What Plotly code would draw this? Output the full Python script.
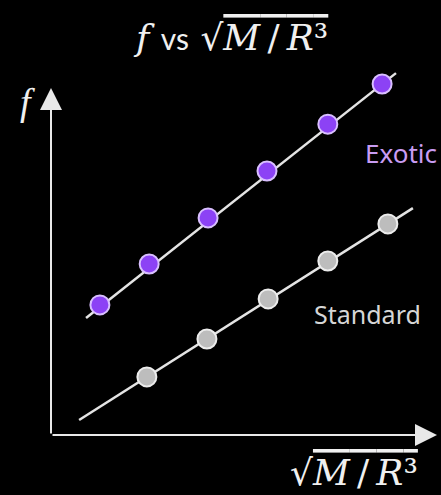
import plotly.graph_objects as go

# ---- data (arbitrary units: x = sqrt(M/R^3), y = f) ----
exotic_x = [1.27, 2.55, 4.08, 5.61, 7.19, 8.60]
exotic_y = [3.47, 4.56, 5.79, 7.04, 8.29, 9.36]
exotic_fit_x = [0.91, 8.96]
exotic_fit_y = [3.12, 9.65]

standard_x = [2.49, 4.05, 5.64, 7.19, 8.75]
standard_y = [1.55, 2.56, 3.63, 4.64, 5.63]
standard_fit_x = [0.73, 9.40]
standard_fit_y = [0.40, 6.05]

W, H = 441, 495
# axis scale (pixels per unit) and origin in pixels
SX, SY = 38.5, 37.5
OX, OY = 51, 435

LINE_COL = "#e4e4e4"

fig = go.Figure()
fig.add_trace(go.Scatter(x=exotic_fit_x, y=exotic_fit_y, mode="lines",
                         line=dict(color=LINE_COL, width=2.5), hoverinfo="skip"))
fig.add_trace(go.Scatter(x=standard_fit_x, y=standard_fit_y, mode="lines",
                         line=dict(color=LINE_COL, width=2.5), hoverinfo="skip"))
fig.add_trace(go.Scatter(x=exotic_x, y=exotic_y, mode="markers", name="Exotic",
                         marker=dict(size=19, color="#8c42f5",
                                     line=dict(color="#d9bfff", width=2))))
fig.add_trace(go.Scatter(x=standard_x, y=standard_y, mode="markers", name="Standard",
                         marker=dict(size=19, color="#bdbdbd",
                                     line=dict(color="#ececec", width=2))))

def px(x):
    return x / W

def py(y):
    return 1 - y / H

annos = []
# axes with arrowheads
annos.append(dict(x=(437 - OX) / SX, y=0, ax=0, ay=0, xref="x", yref="y",
                  axref="x", ayref="y", text="", showarrow=True,
                  arrowhead=2, arrowsize=2.2, arrowwidth=2, arrowcolor="#e8e8e8"))
annos.append(dict(x=0, y=(OY - 88) / SY, ax=0, ay=0, xref="x", yref="y",
                  axref="x", ayref="y", text="", showarrow=True,
                  arrowhead=2, arrowsize=2.2, arrowwidth=2, arrowcolor="#e8e8e8"))

ov = "<span style='text-decoration:overline'>"
math = "√" + ov + "<i>M</i>\u2009/\u2009<i>R</i>³</span>"
annos.append(dict(x=px(230), y=py(37), xref="paper", yref="paper", showarrow=False,
                  text="<i>f</i> <span style='font-family:Lato;font-size:30px'>vs</span> " + math,
                  font=dict(family="DejaVu Serif", size=36, color="#f0f0f0"),
                  xanchor="center", yanchor="middle"))
annos.append(dict(x=px(27), y=py(102), xref="paper", yref="paper", showarrow=False,
                  text="<i>f</i>",
                  font=dict(family="Liberation Serif", size=38, color="#f0f0f0"),
                  xanchor="center", yanchor="middle"))
annos.append(dict(x=px(354), y=py(472), xref="paper", yref="paper", showarrow=False,
                  text=math,
                  font=dict(family="DejaVu Serif", size=36, color="#f0f0f0"),
                  xanchor="center", yanchor="middle"))
annos.append(dict(x=px(363), y=py(153), xref="paper", yref="paper", showarrow=False,
                  text="Exotic", font=dict(family="Noto Sans", size=26, color="#c89cf2"),
                  xanchor="left", yanchor="middle"))
annos.append(dict(x=px(312), y=py(314), xref="paper", yref="paper", showarrow=False,
                  text="Standard", font=dict(family="Noto Sans", size=25, color="#d6d6d6"),
                  xanchor="left", yanchor="middle"))

fig.update_layout(
    width=W, height=H,
    margin=dict(l=0, r=0, t=0, b=0),
    paper_bgcolor="#000000", plot_bgcolor="#000000",
    showlegend=False,
    xaxis=dict(range=[-OX / SX, (W - OX) / SX], visible=False, fixedrange=True),
    yaxis=dict(range=[(OY - H) / SY, OY / SY], visible=False, fixedrange=True),
    annotations=annos,
)

fig.write_html("out.html", config=dict(displayModeBar=False),
               post_script="document.body.style.margin='0';document.body.style.background='#000';")
